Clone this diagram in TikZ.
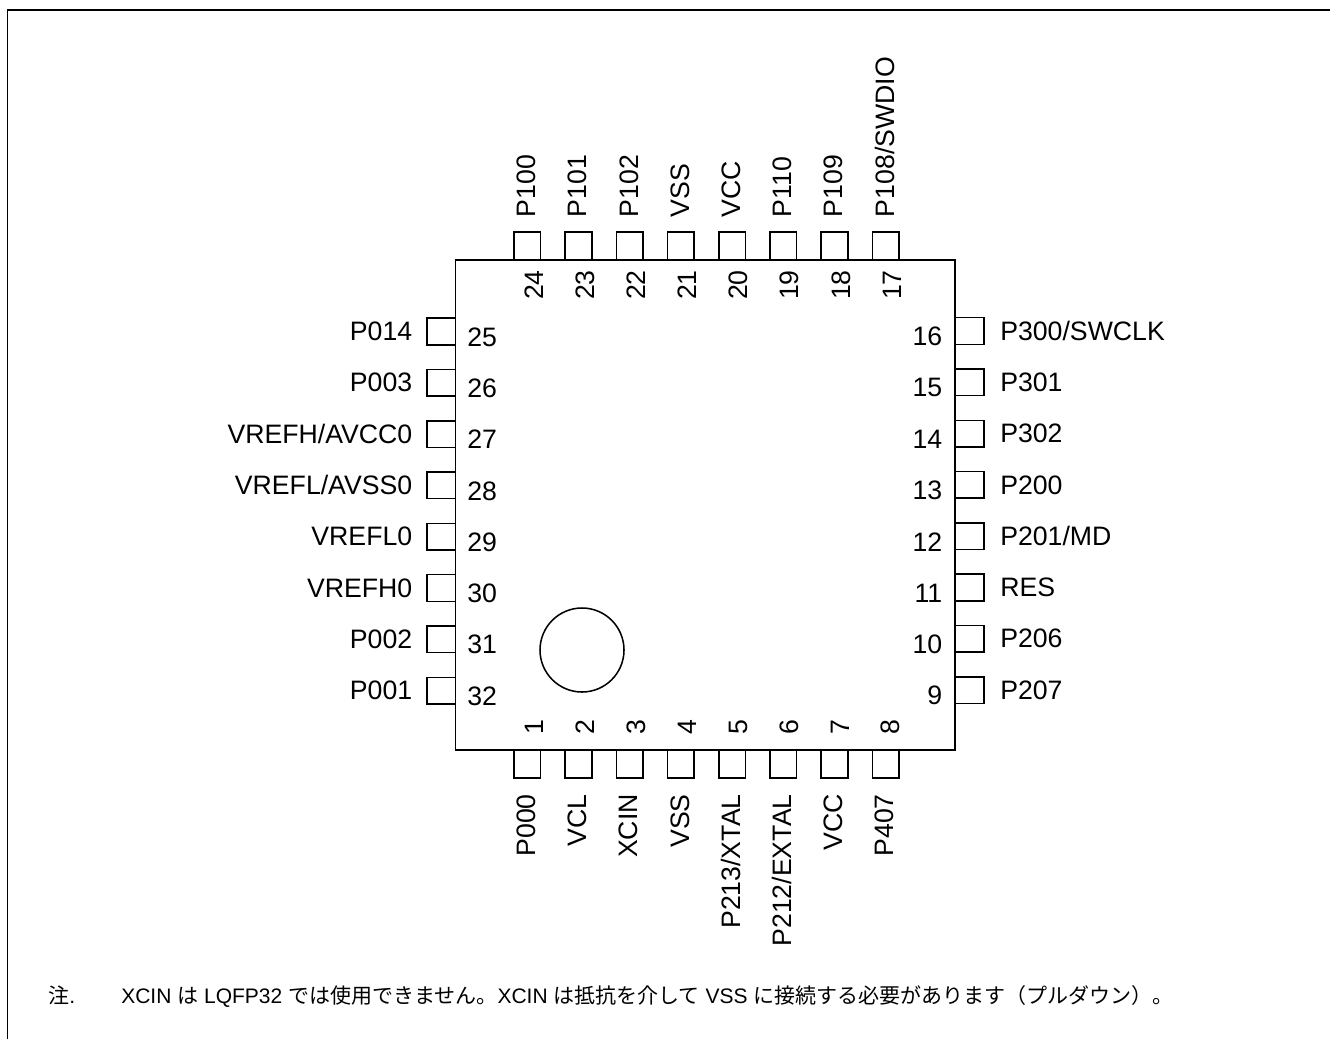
\documentclass[tikz,border=0pt]{standalone}
\usepackage{fontspec}
\setmainfont{Liberation Sans}
\newfontfamily\cjk{Noto Sans CJK JP}
\newcommand{\J}[1]{{\cjk #1}}
\tikzset{
  x=0.75pt,y=-0.75pt,
  lbl/.style={inner sep=0pt,font=\fontsize{20pt}{22pt}\selectfont},
  pin/.style={draw=black,line width=1.15pt,fill=none},
  notetxt/.style={anchor=base west,inner sep=0pt,font=\fontsize{15.75pt}{18pt}\selectfont},
}
\begin{document}
\begin{tikzpicture}
\useasboundingbox (0,0) rectangle (1330,1039);
\draw[pin] (7.7,1039) -- (7.7,10) -- (1330,10);
\draw[pin] (455.5,260) rectangle (955,750);
\node[draw=black,line width=1.15pt,circle,minimum size=63pt,inner sep=0pt] (mark) at (582,650) {};
% top
\foreach \n/\t [count=\i from 0] in {24/P100,23/P101,22/P102,21/VSS,20/VCC,19/P110,18/P109,17/P108\slash SWDIO}{
  \pgfmathsetmacro\xx{527.3+\i*51.2}
  \draw[pin] (\xx-13.3,260) -- (\xx-13.3,232) -- (\xx+13.3,232) -- (\xx+13.3,260);
  \node[lbl,rotate=90,anchor=west] (tl\n) at (\xx-0.8,217.5) {\t};
  \node[lbl,rotate=90,anchor=east] (tn\n) at (\xx+6.5,270) {\n};
}
% bottom
\foreach \n/\t [count=\i from 0] in {1/P000,2/VCL,3/XCIN,4/VSS,5/P213\slash XTAL,6/P212\slash EXTAL,7/VCC,8/P407}{
  \pgfmathsetmacro\xx{527.3+\i*51.2}
  \pgfmathsetmacro\xn{534.5+\i*50.9}
  \draw[pin] (\xx-13.3,750) -- (\xx-13.3,778) -- (\xx+13.3,778) -- (\xx+13.3,750);
  \node[lbl,rotate=90,anchor=east] (bl\n) at (\xx-1,794) {\t};
  \node[lbl,rotate=90,anchor=west] (bn\n) at (\xn,734.5) {\n};
}
% left
\foreach \n/\t [count=\i from 0] in {25/P014,26/P003,27/VREFH\slash AVCC0,28/VREFL\slash AVSS0,29/VREFL0,30/VREFH0,31/P002,32/P001}{
  \pgfmathsetmacro\yy{331.5+\i*51.3}
  \draw[pin] (455.5,\yy-13.3) -- (427,\yy-13.3) -- (427,\yy+13.3) -- (455.5,\yy+13.3);
  \node[lbl,anchor=east] (ll\n) at (412.5,\yy) {\t};
  \node[lbl,anchor=west] (ln\n) at (467,\yy+5.5) {\n};
}
% right
\foreach \n/\t [count=\i from 0] in {16/P300\slash SWCLK,15/P301,14/P302,13/P200,12/P201\slash MD,11/RES,10/P206,9/P207}{
  \pgfmathsetmacro\yy{331+\i*51.3}
  \draw[pin] (955,\yy-13.3) -- (984,\yy-13.3) -- (984,\yy+13.3) -- (955,\yy+13.3);
  \node[lbl,anchor=west] (rl\n) at (1000,\yy) {\t};
  \node[lbl,anchor=east] (rn\n) at (942.5,\yy+5.5) {\n};
}
\node[notetxt] (note) at (48,1003) {\J{注}.};
\node[notetxt] (notetext) at (121,1003) {XCIN \J{は} LQFP32 \J{では使用できません。}XCIN \J{は抵抗を介して} VSS \J{に接続する必要があります（プルダウン）。}};
\end{tikzpicture}
\end{document}
